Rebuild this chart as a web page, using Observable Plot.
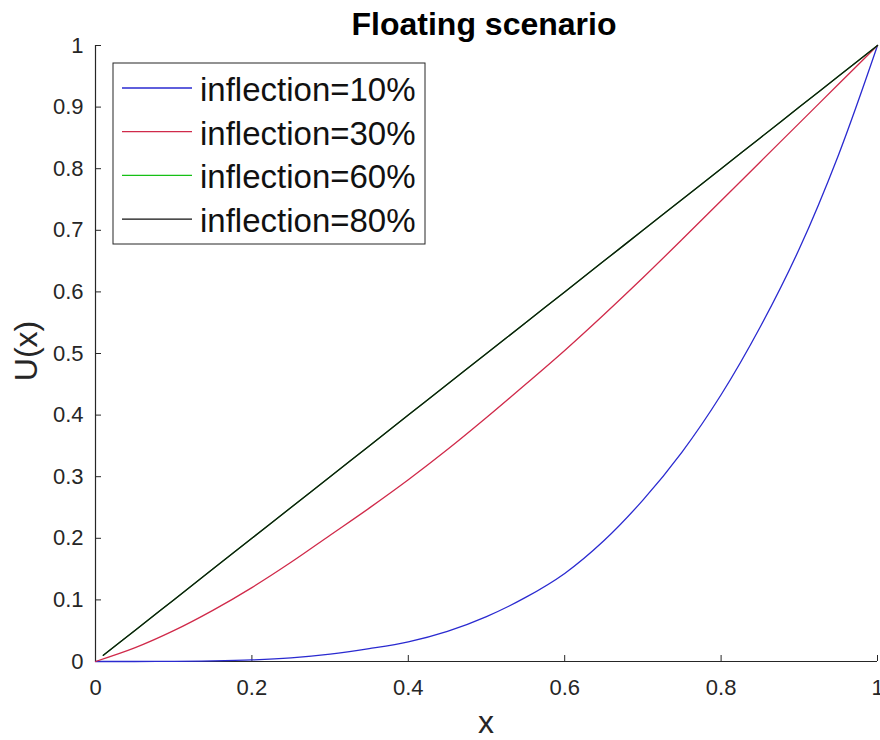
<!DOCTYPE html>
<html><head><meta charset="utf-8">
<script src="https://cdn.jsdelivr.net/npm/d3@7"></script>
<script src="https://cdn.jsdelivr.net/npm/@observablehq/plot@0.6"></script>
<style>body{margin:0;background:#fff} #chart svg{display:block}</style>
</head><body><div id="chart"></div>
<script>
// ---- data ----
const xs = [0,0.05,0.1,0.15,0.2,0.25,0.3,0.35,0.4,0.45,0.5,0.55,0.6,0.65,0.7,0.75,0.8,0.85,0.9,0.95,1];
const u10 = [0,0,0.0002,0.0009,0.0026,0.006,0.012,0.021,0.032,0.049,0.073,0.104,0.143,0.196,0.262,0.34,0.433,0.543,0.67,0.822,1];
const u30 = [0,0.022,0.05,0.083,0.12,0.161,0.205,0.249,0.295,0.344,0.396,0.45,0.505,0.563,0.623,0.685,0.748,0.811,0.874,0.937,1];
const xsLin = [0.01,0.05,0.1,0.15,0.2,0.25,0.3,0.35,0.4,0.45,0.5,0.55,0.6,0.65,0.7,0.75,0.8,0.85,0.9,0.95,1];
const u60 = [0.01,0.05,0.1,0.15,0.2,0.25,0.3,0.35,0.4,0.45,0.5,0.55,0.6,0.65,0.7,0.75,0.8,0.85,0.9,0.95,1];
const u80 = [0.01,0.05,0.1,0.15,0.2,0.25,0.3,0.35,0.4,0.45,0.5,0.55,0.6,0.65,0.7,0.75,0.8,0.85,0.9,0.95,1];
const seriesNames = ["inflection=10%","inflection=30%","inflection=60%","inflection=80%"];
const seriesColors = ["#2a2ad0","#d02a4a","#16c016","#111111"];
const xTicks = [0,0.2,0.4,0.6,0.8,1];
const xTickLabels = ["0","0.2","0.4","0.6","0.8","1"];
const yTicks = [0,0.1,0.2,0.3,0.4,0.5,0.6,0.7,0.8,0.9,1];
const yTickLabels = ["0","0.1","0.2","0.3","0.4","0.5","0.6","0.7","0.8","0.9","1"];
const titleText = "Floating scenario";
const xLabel = "x";
const yLabel = "U(x)";

// ---- build table ----
const seriesX = [xs, xs, xsLin, xsLin];
const seriesY = [u10, u30, u60, u80];
const rows = seriesNames.flatMap((name, s) => seriesX[s].map((x, i) => ({series: name, x, y: seriesY[s][i]})));
const xLabMap = new Map(xTicks.map((t, i) => [t, xTickLabels[i]]));
const yLabMap = new Map(yTicks.map((t, i) => [t, yTickLabels[i]]));

const W = 880, H = 740, mL = 95, mR = 3, mT = 45, mB = 79;
const frameW = W - mL - mR, frameH = H - mT - mB;
const font = "'Liberation Sans', Arial, Helvetica, sans-serif";
const axisColor = "#262626";

const plot = Plot.plot({
  width: W, height: H,
  marginLeft: mL, marginRight: mR, marginTop: mT, marginBottom: mB,
  style: {fontFamily: font, background: "#fff", color: axisColor},
  x: {domain: [0, 1]},
  y: {domain: [0, 1]},
  color: {domain: seriesNames, range: seriesColors},
  marks: [
    Plot.axisX(xTicks, {tickSize: 0, tickPadding: 18, fontSize: 22, tickFormat: d => xLabMap.get(d), label: null, fill: axisColor}),
    Plot.axisY(yTicks, {tickSize: 0, tickPadding: 12, fontSize: 22, tickFormat: d => yLabMap.get(d), label: null, fill: axisColor}),
    Plot.tickX(xTicks, {x: d => d, insetTop: frameH - 6, stroke: axisColor, strokeWidth: 1}),
    Plot.tickY(yTicks, {y: d => d, insetRight: frameW - 6, stroke: axisColor, strokeWidth: 1}),
    Plot.ruleX([0], {stroke: axisColor, strokeWidth: 1.2}),
    Plot.ruleY([0], {stroke: axisColor, strokeWidth: 1.2}),
    Plot.line(rows, {x: "x", y: "y", z: "series", stroke: "series", strokeWidth: 1.3, curve: "catmull-rom"})
  ]
});
document.getElementById("chart").appendChild(plot);

// ---- title, axis labels, legend ----
const svg = d3.select(plot);
svg.append("text").attr("x", mL + frameW / 2 - 2).attr("y", 35).attr("text-anchor", "middle")
  .attr("font-family", font).attr("font-size", 32).attr("font-weight", "bold").attr("fill", "#000").text(titleText);
svg.append("text").attr("x", mL + frameW / 2).attr("y", 733).attr("text-anchor", "middle")
  .attr("font-family", font).attr("font-size", 32).attr("fill", axisColor).text(xLabel);
svg.append("text").attr("transform", `translate(37,${mT + frameH / 2 - 2}) rotate(-90)`).attr("text-anchor", "middle")
  .attr("font-family", font).attr("font-size", 32).attr("fill", axisColor).text(yLabel);

const lg = svg.append("g");
lg.append("rect").attr("x", 113).attr("y", 63).attr("width", 312).attr("height", 181)
  .attr("fill", "#fff").attr("stroke", axisColor).attr("stroke-width", 1);
seriesNames.forEach((name, i) => {
  const yy = 88 + i * 43.7;
  lg.append("line").attr("x1", 122).attr("x2", 192).attr("y1", yy).attr("y2", yy)
    .attr("stroke", seriesColors[i]).attr("stroke-width", 1.3);
  lg.append("text").attr("x", 200).attr("y", yy + 13).attr("text-anchor", "start")
    .attr("font-family", font).attr("font-size", 33).attr("fill", "#111").text(name);
});
</script></body></html>
